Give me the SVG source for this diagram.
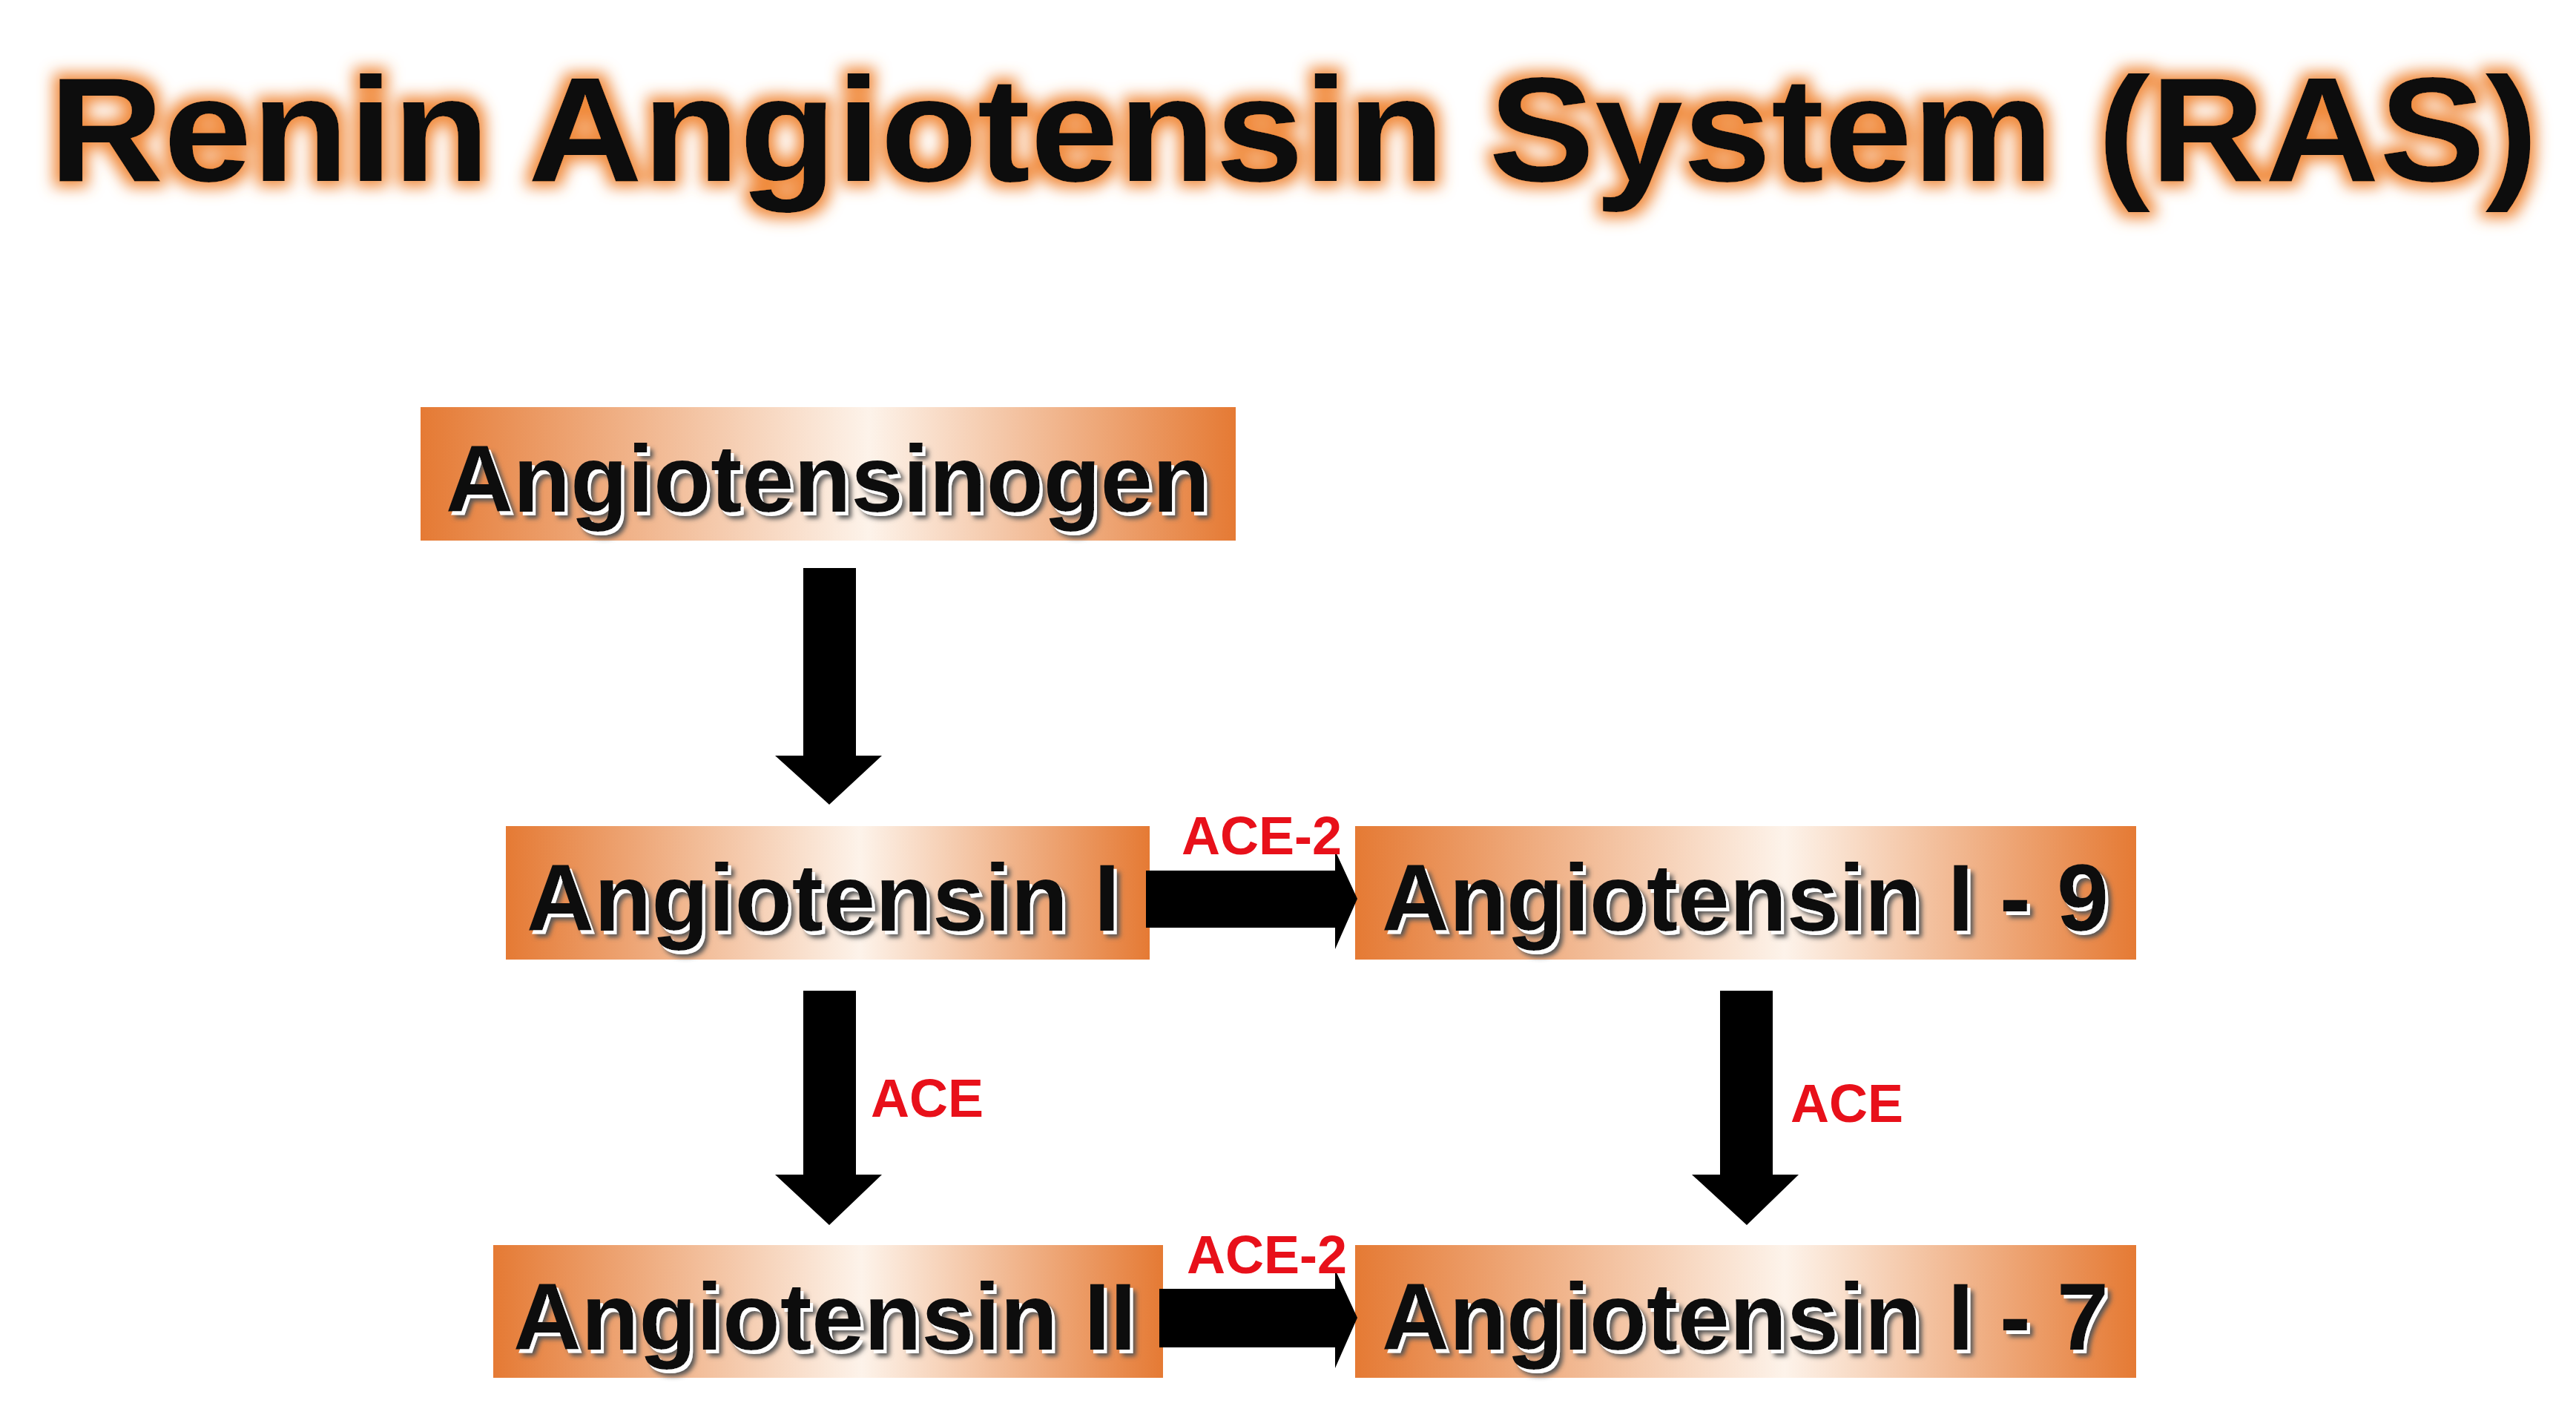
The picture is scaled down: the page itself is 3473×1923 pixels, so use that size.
<svg xmlns="http://www.w3.org/2000/svg" width="3473" height="1923" viewBox="0 0 3473 1923">
<defs>
<linearGradient id="g" x1="0" y1="0" x2="1" y2="0">
<stop offset="0" stop-color="#e57a34"/><stop offset="0.55" stop-color="#fdf3ea"/><stop offset="1" stop-color="#e57a34"/>
</linearGradient>
<filter id="glow" x="-5%" y="-30%" width="110%" height="160%">
<feMorphology in="SourceAlpha" operator="dilate" radius="8" result="d"/>
<feGaussianBlur in="d" stdDeviation="10" result="b"/>
<feFlood flood-color="#f08a3c"/><feComposite in2="b" operator="in" result="o"/>
<feMerge><feMergeNode in="o"/><feMergeNode in="SourceGraphic"/></feMerge>
</filter>
<filter id="sh" x="-5%" y="-20%" width="110%" height="140%">
<feOffset in="SourceAlpha" dx="4" dy="5" result="o"/>
<feFlood flood-color="#ffffff"/><feComposite in2="o" operator="in" result="w"/>
<feOffset in="SourceAlpha" dx="8" dy="9" result="o2"/><feGaussianBlur in="o2" stdDeviation="3" result="b2"/>
<feFlood flood-color="#555"/><feComposite in2="b2" operator="in" result="g2"/>
<feMerge><feMergeNode in="g2"/><feMergeNode in="w"/><feMergeNode in="SourceGraphic"/></feMerge>
</filter>
</defs>
<style>
.box{fill:url(#g)}
.t{font-family:"Liberation Sans",Arial,sans-serif;font-weight:bold;font-size:128px;fill:#111;text-anchor:middle;filter:url(#sh)}
.lab{font-family:"Liberation Sans",Arial,sans-serif;font-weight:bold;font-size:72px;fill:#e8101a}
.ar{fill:#000}
</style>
<rect width="3473" height="1923" fill="#fff"/>
<text x="1744" y="244" font-family="Liberation Sans,Arial,sans-serif" font-weight="bold" font-size="200" text-anchor="middle" textLength="3356" lengthAdjust="spacingAndGlyphs" fill="#111" filter="url(#glow)">Renin Angiotensin System (RAS)</text>
<g id="n1"><rect class="box" x="567" y="549" width="1099" height="180"/><text class="t" x="1116" y="690" textLength="1030" lengthAdjust="spacingAndGlyphs">Angiotensinogen</text></g>
<g id="n2"><rect class="box" x="682" y="1114" width="868" height="180"/><text class="t" x="1110" y="1255" textLength="800" lengthAdjust="spacingAndGlyphs">Angiotensin I</text></g>
<g id="n3"><rect class="box" x="1827" y="1114" width="1053" height="180"/><text class="t" x="2353" y="1255" textLength="980" lengthAdjust="spacingAndGlyphs">Angiotensin I - 9</text></g>
<g id="n4"><rect class="box" x="665" y="1679" width="903" height="179"/><text class="t" x="1112" y="1820" textLength="840" lengthAdjust="spacingAndGlyphs">Angiotensin II</text></g>
<g id="n5"><rect class="box" x="1827" y="1679" width="1053" height="179"/><text class="t" x="2353" y="1820" textLength="980" lengthAdjust="spacingAndGlyphs">Angiotensin I - 7</text></g>
<g id="connectors">
<polygon class="ar" points="1083,766 1154,766 1154,1019 1189,1019 1118,1085 1045,1019 1083,1019"/>
<polygon class="ar" points="1083,1336 1154,1336 1154,1584 1189,1584 1118,1652 1045,1584 1083,1584"/>
<polygon class="ar" points="2319,1336 2390,1336 2390,1584 2425,1584 2355,1652 2281,1584 2319,1584"/>
<polygon class="ar" points="1545,1174 1800,1174 1800,1147 1830,1212 1800,1280 1800,1251 1545,1251"/>
<polygon class="ar" points="1563,1738 1800,1738 1800,1712 1830,1777 1800,1845 1800,1817 1563,1817"/>
<text class="lab" x="1701" y="1152" text-anchor="middle">ACE-2</text>
<text class="lab" x="1708" y="1717" text-anchor="middle">ACE-2</text>
<text class="lab" x="1174" y="1506">ACE</text>
<text class="lab" x="2414" y="1513">ACE</text>
</g>
</svg>
